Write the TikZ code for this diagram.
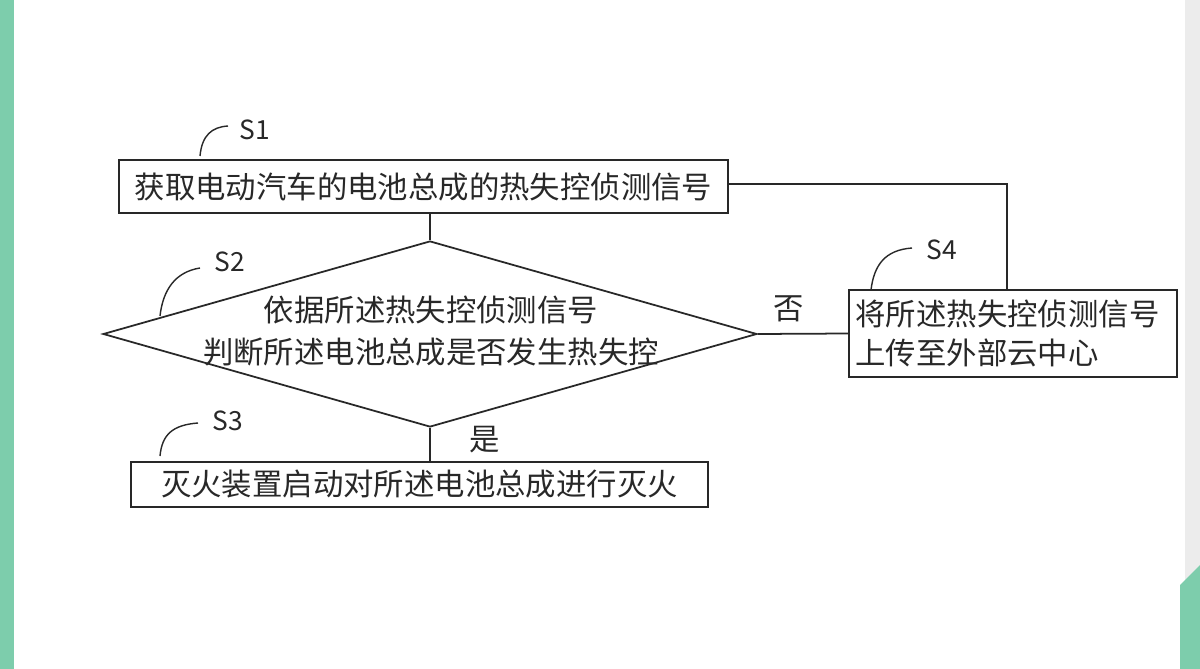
\documentclass[tikz,border=0pt]{standalone}
\usepackage{fontspec}
\setmainfont{Noto Sans CJK SC}
\usetikzlibrary{shapes.geometric}
\definecolor{bargreen}{RGB}{125,205,172}
\definecolor{bargrey}{RGB}{236,236,236}
\definecolor{ink}{RGB}{40,40,40}
\tikzset{
	stepbox/.style={draw=ink, line width=1pt, inner sep=0pt, font=\fontsize{17.3}{23}\selectfont, text=ink},
	tag/.style={font=\fontsize{15}{17}\selectfont, text=ink},
	tick/.style={draw=ink, line width=0.8pt},
	link/.style={draw=ink, line width=1pt}
}
\begin{document}
\begin{tikzpicture}[x=0.02cm,y=-0.02cm]
	\useasboundingbox (0,0) rectangle (1200,669);
	\fill[white] (0,0) rectangle (1200,669);
	\fill[bargreen] (0,0) rectangle (14,669);
	\fill[bargrey] (1185,0) rectangle (1200,669);
	\fill[bargreen] (1200,565) -- (1200,669) -- (1180,669) -- (1180,585) -- cycle;
	% steps
	\node [stepbox, minimum width=12.18cm, minimum height=1.06cm] (s1) at (423.5,186.5) {获取电动汽车的电池总成的热失控侦测信号};
	\node [draw=ink, line width=1pt, diamond, aspect=3.52, inner sep=0pt, minimum width=13.08cm, minimum height=3.72cm] (s2) at (430,334) {};
	\node [stepbox, draw=none, align=center, font=\fontsize{17.3}{24}\selectfont] (s2t) at (431,331) {依据所述热失控侦测信号\\判断所述电池总成是否发生热失控};
	\node [stepbox, minimum width=11.54cm, minimum height=0.9cm] (s3) at (419.5,484.5) {灭火装置启动对所述电池总成进行灭火};
	\node [stepbox, minimum width=6.56cm, minimum height=1.74cm, text width=6.3cm, align=left, font=\fontsize{17.3}{22.5}\selectfont] (s4) at (1013,333.5) {将所述热失控侦测信号\\上传至外部云中心};
	% labels
	\node [tag] (l1) at (255,130) {S1};
	\node [tag] (l2) at (230,262) {S2};
	\node [tag] (l3) at (228,421) {S3};
	\node [tag] (l4) at (942,250) {S4};
	\draw [tick] (200,156) .. controls (202,135) and (212,127) .. (228,126);
	\draw [tick] (160,316) .. controls (163,290) and (175,272) .. (200,268);
	\draw [tick] (160,456) .. controls (162,435) and (172,425) .. (198,423);
	\draw [tick] (871,290) .. controls (874,265) and (885,250) .. (912,248);
	% connectors
	\draw [link] (s1.south -| s2.north) -- (s2.north);
	\draw [link] (s2.south) -- (s2.south |- s3.north) node [stepbox, draw=none, pos=0.35, right=22pt] {是};
	\draw [link] (s2.east) -- (s4.west) node [stepbox, draw=none, midway, above=6pt, xshift=-8pt] {否};
	\coordinate (c1) at (1007,184);
	\draw [link] (s1.east |- c1) -- (c1) -- (c1 |- s4.north);
\end{tikzpicture}
\end{document}
